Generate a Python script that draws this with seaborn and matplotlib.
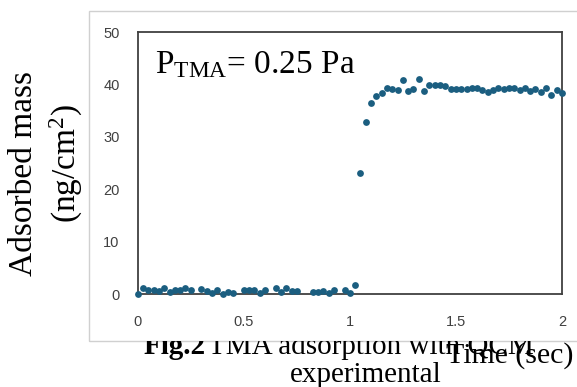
import numpy as np
import pandas as pd
import matplotlib
matplotlib.use('Agg')
import matplotlib.pyplot as plt
from matplotlib.patches import Rectangle
from matplotlib.transforms import Bbox
import seaborn as sns

# Data (time in s, adsorbed mass in ng/cm2)
time_sec = [0.0, 0.025, 0.05, 0.075, 0.1, 0.125, 0.15, 0.175, 0.2, 0.225, 0.25,
            0.3, 0.325, 0.35, 0.375, 0.4, 0.425, 0.45,
            0.5, 0.525, 0.55, 0.575, 0.6,
            0.65, 0.675, 0.7, 0.725, 0.75,
            0.825, 0.85, 0.875, 0.9, 0.925,
            0.975, 1.0, 1.025,
            1.05, 1.075, 1.1, 1.125, 1.15, 1.175, 1.2, 1.225, 1.25, 1.275,
            1.3, 1.325, 1.35, 1.375, 1.4, 1.425, 1.45, 1.475, 1.5, 1.525,
            1.55, 1.575, 1.6, 1.625, 1.65, 1.675, 1.7, 1.725, 1.75, 1.775,
            1.8, 1.825, 1.85, 1.875, 1.9, 1.925, 1.95, 1.975, 2.0]
mass = [0.0, 1.2, 0.7, 0.8, 0.5, 1.2, 0.4, 0.7, 0.8, 1.2, 0.8,
        1.0, 0.5, 0.1, 0.7, 0.0, 0.4, 0.1,
        0.8, 0.7, 0.7, 0.2, 0.8,
        1.2, 0.4, 1.2, 0.6, 0.6,
        0.4, 0.4, 0.6, 0.2, 0.7,
        0.7, 0.1, 1.7,
        23.0, 32.9, 36.5, 37.8, 38.3, 39.4, 39.1, 38.9, 40.8, 38.8,
        39.2, 41.0, 38.7, 39.9, 39.9, 39.9, 39.7, 39.2, 39.1, 39.1,
        39.2, 39.3, 39.3, 38.9, 38.5, 38.9, 39.4, 39.2, 39.3, 39.4,
        38.9, 39.4, 38.7, 39.1, 38.6, 39.3, 37.9, 39.0, 38.4]
x_ticks = [0, 0.5, 1, 1.5, 2]
x_tick_labels = ['0', '0.5', '1', '1.5', '2']
y_ticks = [0, 10, 20, 30, 40, 50]

df = pd.DataFrame({'time': time_sec, 'mass': mass})

sns.set_style('white')
plt.rcParams['font.family'] = ['Liberation Sans', 'DejaVu Sans']
plt.rcParams['text.color'] = 'black'
plt.rcParams['mathtext.fontset'] = 'custom'
plt.rcParams['mathtext.rm'] = 'Liberation Serif'
plt.rcParams['mathtext.it'] = 'Liberation Serif:italic'

W, H = 577, 387
fig = plt.figure(figsize=(W / 100, H / 100), dpi=100)
ax = fig.add_axes([137.7 / W, (H - 294) / H, (562 - 137.7) / W, (294 - 32) / H])

sns.scatterplot(data=df, x='time', y='mass', ax=ax, color='#1b5e80',
                s=24, linewidth=0, clip_on=False, legend=False, zorder=3)

ax.set_xlim(0, 2)
ax.set_ylim(0, 50)
ax.set_xticks(x_ticks)
ax.set_xticklabels(x_tick_labels)
ax.set_yticks(y_ticks)
ax.set_xlabel('')
ax.set_ylabel('')
for sp in ax.spines.values():
    sp.set_color('#404040')
    sp.set_linewidth(1.3)
ax.tick_params(axis='both', direction='in', length=4, width=1.2, color='#404040',
               labelcolor='#404040', labelsize=10.5)
ax.tick_params(axis='x', pad=15)
ax.tick_params(axis='y', pad=13)

serif = ['Liberation Serif', 'DejaVu Serif']

# chart-area frame
fig.patches.append(Rectangle((89 / W, (H - 341) / H), 1.0, (341 - 11) / H,
                             transform=fig.transFigure, fill=False,
                             edgecolor='#d0d0d0', linewidth=1.0, zorder=0))

fig.text(155 / W, (H - 73) / H, r'P$_{\mathrm{TMA}}$= 0.25 Pa', family=serif,
         fontsize=24, va='baseline', ha='left', color='black')

fig.text(23.5 / W, (H - 173.5) / H, 'Adsorbed mass', family=serif, fontsize=24,
         rotation=90, ha='center', va='center', color='black')
fig.text(66 / W, (H - 163.5) / H, r'(ng/cm$^{2}$)', family=serif, fontsize=24,
         rotation=90, ha='center', va='center', color='black')

# caption, top of first line hidden under the chart area
clip = Bbox.from_extents(0, 0, W, H - 341)
t1 = fig.text(144 / W, (H - 354.5) / H, 'Fig.2', family=serif, fontsize=21,
              fontweight='bold', va='baseline', ha='left', color='black')
t2 = fig.text(208 / W, (H - 354.5) / H, 'TMA adsorption with QCM', family=serif,
              fontsize=21, va='baseline', ha='left', color='black')
for t in (t1, t2):
    t.set_clip_box(clip)
    t.set_clip_on(True)
fig.text(366 / W, (H - 382) / H, 'experimental', family=serif, fontsize=21,
         va='baseline', ha='center', color='black')

fig.text(446 / W, (H - 363) / H, 'Time (sec)', family=serif, fontsize=21.5,
         va='baseline', ha='left', color='black')

fig.savefig('out.png', dpi=100)
